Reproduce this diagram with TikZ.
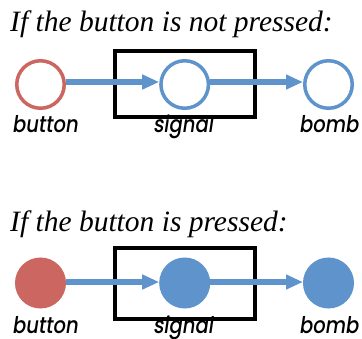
\documentclass[tikz,border=0pt]{standalone}
\usepackage{fontspec}
\setmainfont{Liberation Serif}
\newfontfamily\labelfont[FakeSlant=0.15,FakeStretch=0.85]{Poppins Medium}
\usetikzlibrary{arrows.meta}
\definecolor{nodered}{RGB}{204,102,96}
\definecolor{nodeblue}{RGB}{94,148,203}
\tikzset{
  titletext/.style={anchor=base west, inner sep=0pt, font=\fontsize{29.5}{34}\selectfont\itshape},
  nodelabel/.style={anchor=base, inner sep=0pt, font=\fontsize{23}{27}\selectfont\labelfont},
  ring/.style={circle, draw=#1, line width=3.5pt, minimum size=47.5pt, inner sep=0pt},
  disc/.style={circle, draw=#1, fill=#1, line width=3.5pt, minimum size=47.5pt, inner sep=0pt},
  conn/.style={draw=nodeblue, line width=6pt, -{Triangle[length=17pt,width=14pt]}},
  frame/.style={draw=black, line width=4pt}
}
\begin{document}
\begin{tikzpicture}[x=1pt,y=-1pt]
\useasboundingbox (0,0) rectangle (362,338);
% --- top panel
\node[titletext] (t1) at (10,31.7) {If the button is not pressed:};
\draw[frame] (114.5,50.7) rectangle (254.7,117);
\node[ring=nodered] (b1) at (40.5,84.5) {};
\node[ring=nodeblue] (s1) at (184.7,84.5) {};
\node[ring=nodeblue] (m1) at (328.5,84.5) {};
\draw[conn] ([yshift=2.5pt]b1.east) -- ([yshift=2.5pt]s1.west);
\draw[conn] ([yshift=2.5pt]s1.east) -- ([yshift=2.5pt]m1.west);
\node[nodelabel] (lb1) at (45,132) {button};
\node[nodelabel] (ls1) at (183,132) {signal};
\node[nodelabel] (lm1) at (328.8,132) {bomb};
% --- bottom panel
\node[titletext] (t2) at (10,231.7) {If the button is pressed:};
\draw[frame] (114.5,248) rectangle (254.7,318.7);
\node[disc=nodered] (b2) at (40.5,283) {};
\node[disc=nodeblue] (s2) at (184.7,283) {};
\node[disc=nodeblue] (m2) at (328.5,283) {};
\draw[conn] ([yshift=1pt]b2.east) -- ([yshift=1pt]s2.west);
\draw[conn] ([yshift=1pt]s2.east) -- ([yshift=1pt]m2.west);
\node[nodelabel] (lb2) at (45,333) {button};
\node[nodelabel] (ls2) at (183,333) {signal};
\node[nodelabel] (lm2) at (328.8,333) {bomb};
\end{tikzpicture}
\end{document}
